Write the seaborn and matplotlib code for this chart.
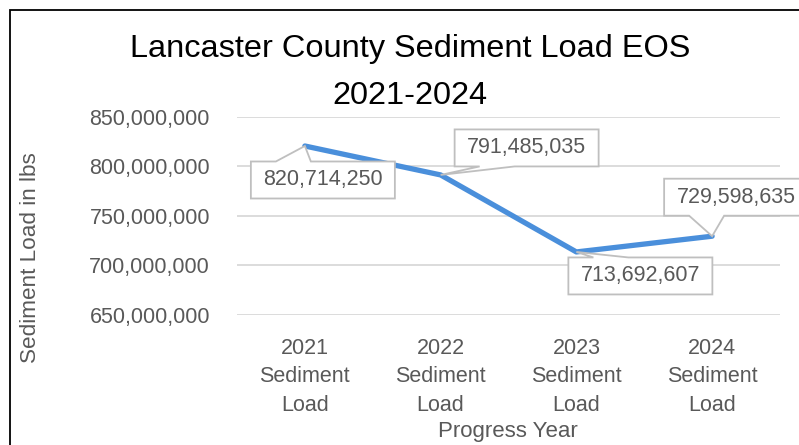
import matplotlib
matplotlib.use("Agg")
import matplotlib.pyplot as plt
import matplotlib.patches as mpatches
from matplotlib.ticker import FuncFormatter
import seaborn as sns
import pandas as pd
import numpy as np

categories = ["2021\nSediment\nLoad", "2022\nSediment\nLoad", "2023\nSediment\nLoad", "2024\nSediment\nLoad"]
values = [820714250, 791485035, 713692607, 729598635]
# label box centre offsets from the point, in pixels (x right, y up)
label_offsets_px = [(18, -34), (86, 27), (64, -24), (24, 39)]

sns.set_theme(style="white")
plt.rcParams['font.family'] = ['Liberation Sans', 'DejaVu Sans']

df = pd.DataFrame({"cat": categories, "val": values})

W, H = 799, 445
fig = plt.figure(figsize=(W/100, H/100), dpi=100)
ax = fig.add_axes([237/W, 1-315/H, (780-237)/W, (315-117)/H])

sns.lineplot(data=df, x="cat", y="val", sort=False, ax=ax, color="#4A8FDB",
             linewidth=3.8, zorder=3)

ax.set_xlim(-0.5, 3.5)
ax.set_ylim(650e6, 850e6)
ax.set_yticks([650e6, 700e6, 750e6, 800e6, 850e6])
ax.yaxis.set_major_formatter(FuncFormatter(lambda v, p: f"{int(v):,}"))
ax.grid(axis="y", color="#D9D9D9", linewidth=1.3)
ax.grid(axis="x", visible=False)
for s in ax.spines.values():
    s.set_visible(False)
ax.tick_params(axis="y", labelsize=15.5, labelcolor="#595959", length=0, pad=19.5)
ax.tick_params(axis="x", labelsize=15.5, labelcolor="#595959", length=0, pad=16.5)
for lbl in ax.get_xticklabels():
    lbl.set_linespacing(1.47)
ax.set_xlabel("")
ax.set_ylabel("")

fig.text(30/W, 1-258/H, "Sediment Load in lbs", rotation=90, ha="center", va="center",
         fontsize=16.2, color="#595959")
fig.text(508/W, 1-431/H, "Progress Year", ha="center", va="center",
         fontsize=16, color="#595959")

fig.text(410/W, 1-49/H, "Lancaster County Sediment Load EOS", ha="center", va="center",
         fontsize=23.4, color="black")
fig.text(410/W, 1-96/H, "2021-2024", ha="center", va="center",
         fontsize=23.4, color="black")

# data-label callouts (box with wedge), built in pixel space around each data point
hw, hh = 72, 18.5
base0, base1 = 25, 60
to_fig = fig.transFigure.inverted()
for i, (v, off) in enumerate(zip(values, label_offsets_px)):
    px, py = ax.transData.transform((i, v))
    cx, cy = px + off[0], py + off[1]
    L, R, B, T = cx - hw, cx + hw, cy - hh, cy + hh
    if py > T:   # point above box: wedge on top edge
        pts = [(L, B), (R, B), (R, T), (L + base1, T), (px, py), (L + base0, T), (L, T)]
    else:        # point below box: wedge on bottom edge
        pts = [(L, B), (L + base0, B), (px, py), (L + base1, B), (R, B), (R, T), (L, T)]
    pts_fig = to_fig.transform(np.array(pts))
    poly = mpatches.Polygon(pts_fig, closed=True, transform=fig.transFigure,
                            fc="white", ec="#BFBFBF", lw=1.3, zorder=4, joinstyle="miter")
    fig.patches.append(poly)
    tx, ty = to_fig.transform((cx, cy))
    fig.text(tx, ty, f"{v:,}", ha="center", va="center", fontsize=15.5,
             color="#595959", zorder=5)

frame = mpatches.Rectangle((10/W, -0.1), 1.2, 1 - 10/H + 0.1, transform=fig.transFigure,
                           fill=False, ec="black", lw=1.3, zorder=10)
fig.patches.append(frame)

fig.savefig("out.png", dpi=100)
